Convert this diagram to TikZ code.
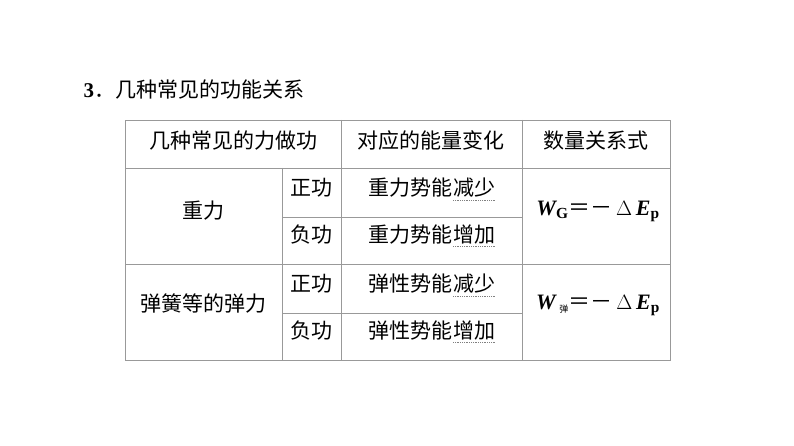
\documentclass[tikz,border=0pt]{standalone}
\usepackage{fontspec}
\setmainfont{Liberation Serif}
\newfontfamily\cjk{Noto Sans CJK SC}
\tikzset{cell/.style={font=\fontsize{21}{24}\selectfont\cjk, inner sep=0pt},
 grid/.style={draw=gray!80, line width=0.8pt},
 ul/.style={draw=gray, line width=0.8pt, densely dotted}}
\begin{document}
\begin{tikzpicture}[x=1pt,y=-1pt]
\useasboundingbox[fill=white] (0,0) rectangle (794,446);
\node[anchor=west, font=\fontsize{21}{24}\selectfont] (title) at (80,90) {\textbf{3}\cjk．几种常见的功能关系};
\draw[grid] (125,120) rectangle (670,360);
\draw[grid] (125,168) -- (670,168);
\draw[grid] (125,264) -- (670,264);
\draw[grid] (282,217) -- (522,217);
\draw[grid] (282,313) -- (522,313);
\draw[grid] (282,168) -- (282,360);
\draw[grid] (341,120) -- (341,360);
\draw[grid] (522,120) -- (522,360);
\node[cell] (h1) at (233,141) {几种常见的力做功};
\node[cell] (h2) at (431,141) {对应的能量变化};
\node[cell] (h3) at (596,141) {数量关系式};
\node[cell] (g) at (203,211) {重力};
\node[cell] (t) at (203,303) {弹簧等的弹力};
\node[cell] (a1) at (311,188) {正功};
\node[cell] (a2) at (311,235) {负功};
\node[cell] (a3) at (311,284) {正功};
\node[cell] (a4) at (311,331) {负功};
\foreach \n/\y/\p/\q in {b1/188/重力势能/减少, b2/235/重力势能/增加, b3/284/弹性势能/减少, b4/331/弹性势能/增加}{
  \node[cell, anchor=east] (\n p) at (453,\y) {\p};
  \node[cell, anchor=west] (\n q) at (453,\y) {\q};
  \draw[ul] ([yshift=-2pt]\n q.south west) -- ([yshift=-2pt]\n q.south east);
}
\node[font=\fontsize{22}{24}\selectfont\bfseries\itshape, inner sep=0pt] (f1) at (598,211) {W\textsubscript{\upshape G}{\upshape\mdseries\cjk ＝－}\,\upshape$\Delta$\,\itshape E\textsubscript{\upshape p}};
\node[font=\fontsize{22}{24}\selectfont\bfseries\itshape, inner sep=0pt] (f2) at (598,305) {W\,\textsubscript{\upshape\cjk\mdseries\fontsize{9}{10}\selectfont 弹}{\upshape\mdseries\cjk ＝－}\,\upshape$\Delta$\,\itshape E\textsubscript{\upshape p}};
\end{tikzpicture}
\end{document}
